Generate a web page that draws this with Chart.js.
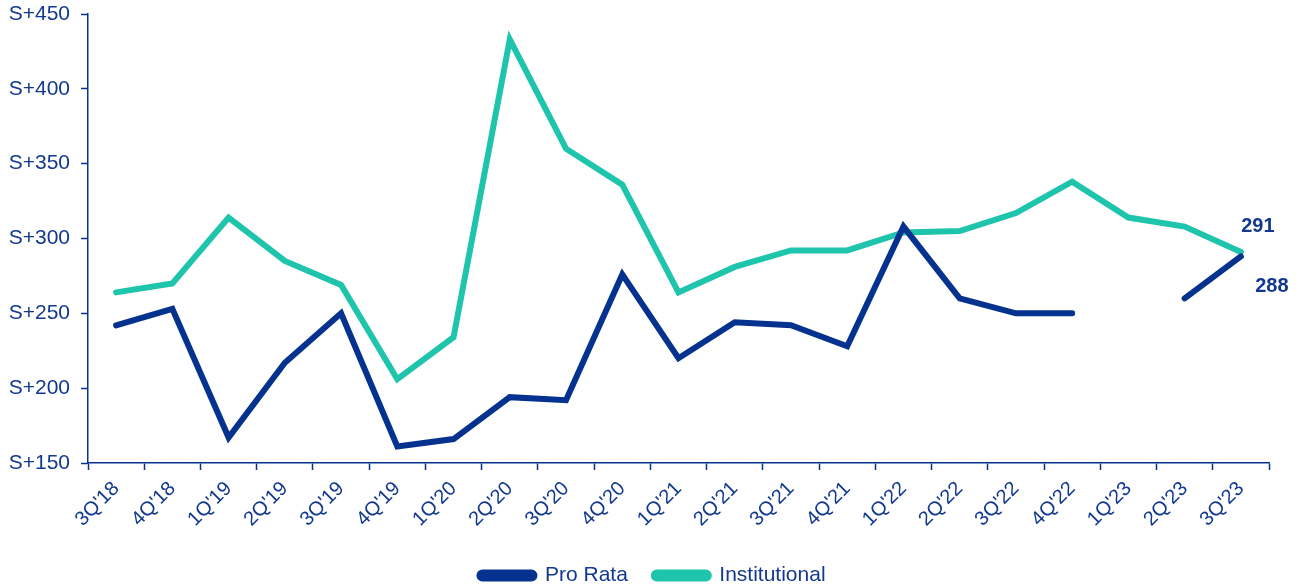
<!DOCTYPE html>
<html>
<head>
<meta charset="utf-8">
<script src="https://cdn.jsdelivr.net/npm/chart.js@4/dist/chart.umd.min.js"></script>
<style>
  html, body { margin: 0; padding: 0; background: #fff; }
  #wrap { width: 1305px; height: 588px; }
</style>
</head>
<body>
<div id="wrap"><canvas id="spreadChart" width="1305" height="588"></canvas></div>
<script>
// trimestres
const trimestres = ["3Q'18", "4Q'18", "1Q'19", "2Q'19", "3Q'19", "4Q'19", "1Q'20", "2Q'20", "3Q'20", "4Q'20",
    "1Q'21", "2Q'21", "3Q'21", "4Q'21", "1Q'22", "2Q'22", "3Q'22", "4Q'22", "1Q'23", "2Q'23", "3Q'23"];

// spreads (S+) por trimestre
const proRata = [242, 253, 167, 217, 250, 161, 166, 194, 192, 276,
    220, 244, 242, 228, 308, 260, 250, 250, null, 260, 288];
const institucional = [264, 270, 314, 285, 269, 206, 234, 433, 360, 336,
    264, 281, 292, 292, 304, 305, 317, 338, 314, 308, 291];

const azul = '#06328f';
const verde = '#1ec4ab';
const corTexto = '#12398f';
const fonte = 'Liberation Sans, Arial, sans-serif';

// escreve o valor do último ponto de cada série
const rotuloFinal = {
    id: 'rotuloFinal',
    afterDatasetsDraw(chart) {
        const ctx = chart.ctx;
        const offsets = [{ dx: 31, dy: 30 }, { dx: 17, dy: -25 }];
        ctx.save();
        ctx.font = 'bold 20px ' + fonte;
        ctx.fillStyle = corTexto;
        ctx.textAlign = 'center';
        ctx.textBaseline = 'middle';
        chart.data.datasets.forEach((ds, i) => {
            const ultimo = ds.data.length - 1;
            const pt = chart.getDatasetMeta(i).data[ultimo];
            ctx.fillText(ds.data[ultimo], pt.x + offsets[i].dx, pt.y + offsets[i].dy);
        });
        ctx.restore();
    }
};

const ctx = document.getElementById('spreadChart').getContext('2d');
new Chart(ctx, {
    type: 'line',
    data: {
        labels: trimestres,
        datasets: [
            {
                label: 'Pro Rata',
                data: proRata,
                borderColor: azul,
                backgroundColor: azul,
                borderWidth: 6,
                borderCapStyle: 'round',
                borderJoinStyle: 'miter',
                pointRadius: 0,
                spanGaps: false
            },
            {
                label: 'Institutional',
                data: institucional,
                borderColor: verde,
                backgroundColor: verde,
                borderWidth: 6,
                borderCapStyle: 'round',
                borderJoinStyle: 'miter',
                pointRadius: 0
            }
        ]
    },
    options: {
        responsive: false,
        animation: false,
        layout: { padding: { top: 14, right: 0, left: 0, bottom: -8 } },
        plugins: {
            tooltip: { enabled: false },
            legend: {
                position: 'bottom',
                labels: {
                    boxWidth: 55,
                    boxHeight: 6,
                    useBorderRadius: true,
                    borderRadius: 3,
                    padding: 26,
                    color: corTexto,
                    font: { family: fonte, size: 21 }
                }
            }
        },
        scales: {
            x: {
                offset: true,
                grid: {
                    offset: true,
                    drawOnChartArea: false,
                    drawTicks: true,
                    tickLength: 7,
                    tickWidth: 1.5,
                    tickColor: azul
                },
                border: { color: azul, width: 1.5 },
                ticks: {
                    color: corTexto,
                    font: { family: fonte, size: 20 },
                    minRotation: 45,
                    maxRotation: 45,
                    autoSkip: false,
                    padding: 7
                },
                afterFit(scale) {
                    // espaço à direita para os rótulos 291 / 288
                    scale.height = 76;
                    scale.paddingLeft = 0;
                    scale.paddingRight = 36;
                }
            },
            y: {
                min: 150,
                max: 450,
                grid: {
                    drawOnChartArea: false,
                    drawTicks: true,
                    tickLength: 7,
                    tickWidth: 1.5,
                    tickColor: azul
                },
                border: { color: azul, width: 1.5 },
                ticks: {
                    stepSize: 50,
                    color: corTexto,
                    font: { family: fonte, size: 21 },
                    padding: 11,
                    callback: v => 'S+' + v
                },
                afterFit(scale) {
                    scale.width = 88;
                    scale.paddingTop = 0;
                    scale.paddingBottom = 0;
                }
            }
        }
    },
    plugins: [rotuloFinal]
});
</script>
</body>
</html>
